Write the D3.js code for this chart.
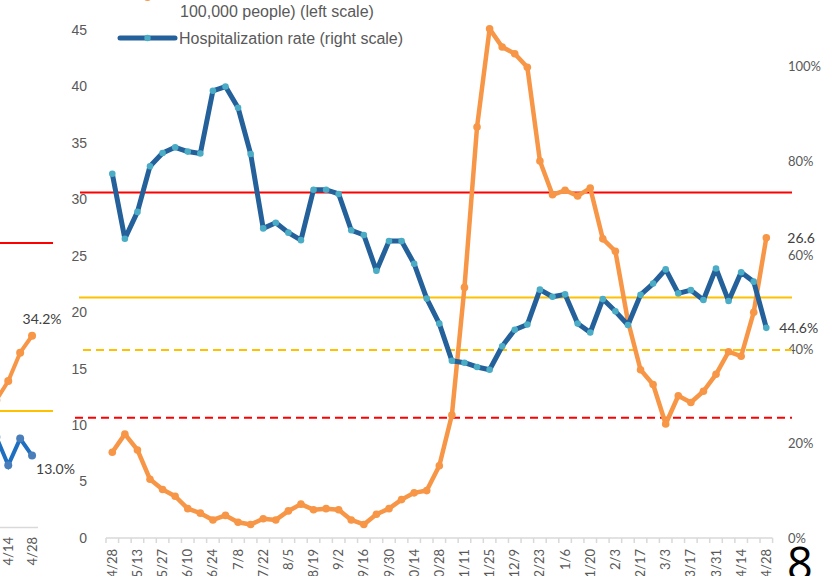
<!DOCTYPE html>
<html>
<head>
<meta charset="utf-8">
<script src="https://cdn.jsdelivr.net/npm/d3@7"></script>
<style>
  body { margin: 0; background: #fff; }
  svg { display: block; }
</style>
</head>
<body>
<div id="vis"></div>
<script>
// weekly dates, labelled every second week
const dates = ['4/28','5/6','5/13','5/20','5/27','6/3','6/10','6/17','6/24','7/1','7/8','7/15','7/22','7/29',
  '8/5','8/12','8/19','8/26','9/2','9/9','9/16','9/23','9/30','10/7','10/14','10/21','10/28','11/4','11/11',
  '11/18','11/25','12/2','12/9','12/16','12/23','12/30','1/6','1/13','1/20','1/27','2/3','2/10','2/17','2/24',
  '3/3','3/10','3/17','3/24','3/31','4/7','4/14','4/21','4/28'];

// cases per 100,000 people (left scale)
const cases = [7.6, 9.2, 7.8, 5.2, 4.3, 3.7, 2.6, 2.2, 1.6, 2.0, 1.4, 1.2, 1.7, 1.6, 2.4, 3.0, 2.5, 2.6,
  2.5, 1.6, 1.2, 2.1, 2.6, 3.4, 4.0, 4.2, 6.4, 10.9, 22.2, 36.4, 45.1, 43.5, 42.9, 41.7, 33.4, 30.4, 30.8,
  30.3, 31.0, 26.5, 25.4, 19.2, 14.9, 13.6, 10.1, 12.6, 12.0, 13.0, 14.5, 16.5, 16.1, 20.0, 26.6];

// hospitalization rate (right scale)
const hospRate = [0.773, 0.635, 0.692, 0.789, 0.817, 0.829, 0.820, 0.816, 0.949, 0.958, 0.913, 0.815,
  0.657, 0.669, 0.648, 0.632, 0.739, 0.739, 0.730, 0.653, 0.643, 0.567, 0.630, 0.630, 0.582, 0.508, 0.455,
  0.376, 0.372, 0.363, 0.357, 0.407, 0.442, 0.453, 0.527, 0.512, 0.517, 0.455, 0.436, 0.507, 0.481, 0.452,
  0.516, 0.540, 0.570, 0.519, 0.526, 0.505, 0.572, 0.503, 0.564, 0.544, 0.446];

// reference levels (left scale)
const refLevels = [30.6, 21.3, 16.65, 10.65];

const leftTicks = [0, 5, 10, 15, 20, 25, 30, 35, 40, 45];
const rightTicks = [0, 0.2, 0.4, 0.6, 0.8, 1.0];

// the neighbouring chart, cut off at the left edge
const prevDates = ['4/7', '4/14', '4/21', '4/28'];
const prevCases = [0.228, 0.262, 0.312, 0.342];
const prevHosp = [0.163, 0.113, 0.160, 0.130];
const prevRefLevels = [0.506, 0.209];

const W = 833, H = 576;
const orange = '#f79646';
const navy = '#24609a';
const aqua = '#4bacc6';
const grey = '#595959';

const svg = d3.select('#vis').append('svg')
  .attr('width', W).attr('height', H);

svg.append('rect').attr('width', W).attr('height', H).attr('fill', '#fff');

// ---------- main chart ----------
const plot = {left: 106, right: 772.6, top: 30, bottom: 538};
const idx = d3.range(dates.length); // dates repeat (4/28 twice), so key on position

const x = d3.scaleBand().domain(idx).range([plot.left, plot.right]).padding(0);
const cx = i => x(i) + x.bandwidth() / 2;
const yL = d3.scaleLinear().domain([0, 45]).range([plot.bottom, plot.top]);
const yR = d3.scaleLinear().domain([0, 1.078]).range([plot.bottom, plot.top]);

// left axis labels
svg.append('g').selectAll('text')
  .data(leftTicks).join('text')
  .attr('x', 87).attr('y', d => yL(d))
  .attr('dy', '0.35em')
  .attr('text-anchor', 'end')
  .style('font', '14px "Liberation Sans", Arial, sans-serif')
  .style('fill', grey)
  .text(d => d);

// right axis labels
svg.append('g').selectAll('text')
  .data(rightTicks).join('text')
  .attr('x', 788).attr('y', d => yR(d))
  .attr('dy', '0.35em')
  .style('font', '13px Lato, sans-serif')
  .style('fill', grey)
  .text(d => Math.round(d * 100) + '%');

// x axis
const xAxis = svg.append('g').attr('class', 'x-axis');
xAxis.append('line')
  .attr('x1', plot.left).attr('x2', plot.right)
  .attr('y1', plot.bottom).attr('y2', plot.bottom)
  .attr('stroke', '#d9d9d9').attr('stroke-width', 1.5);
const bounds = idx.map(i => x(i)).concat([plot.right]);
xAxis.selectAll('.tick')
  .data(bounds).join('line')
  .attr('class', 'tick')
  .attr('x1', d => d).attr('x2', d => d)
  .attr('y1', plot.bottom).attr('y2', plot.bottom + 5)
  .attr('stroke', '#d9d9d9').attr('stroke-width', 1.5);
xAxis.selectAll('.lbl')
  .data(idx.filter(i => i % 2 === 0)).join('text')
  .attr('class', 'lbl')
  .attr('transform', i => `translate(${cx(i)},${plot.bottom + 11}) rotate(-90)`)
  .attr('dy', '0.35em')
  .attr('text-anchor', 'end')
  .style('font', '13px Lato, sans-serif')
  .style('fill', grey)
  .text(i => dates[i]);

// reference lines
const refStyle = [
  {color: '#ff0000', dash: null, x1: 80},
  {color: '#ffc000', dash: null, x1: 79},
  {color: '#ffc000', dash: '8,5', x1: 83},
  {color: '#ff0000', dash: '8,5', x1: 75}
];
svg.append('g').selectAll('line')
  .data(refLevels).join('line')
  .attr('x1', (d, i) => refStyle[i].x1).attr('x2', 792)
  .attr('y1', d => yL(d)).attr('y2', d => yL(d))
  .attr('stroke', (d, i) => refStyle[i].color)
  .attr('stroke-width', 2)
  .attr('stroke-dasharray', (d, i) => refStyle[i].dash);

// orange: cases
const lineCases = d3.line().x((d, i) => cx(i)).y(d => yL(d));
svg.append('path')
  .datum(cases)
  .attr('d', lineCases)
  .attr('fill', 'none').attr('stroke', orange)
  .attr('stroke-width', 4.5).attr('stroke-linejoin', 'round');
svg.append('g').selectAll('circle')
  .data(cases).join('circle')
  .attr('cx', (d, i) => cx(i)).attr('cy', d => yL(d))
  .attr('r', 3.8).attr('fill', orange);

// blue: hospitalization rate
const lineHosp = d3.line().x((d, i) => cx(i)).y(d => yR(d));
svg.append('path')
  .datum(hospRate)
  .attr('d', lineHosp)
  .attr('fill', 'none').attr('stroke', navy)
  .attr('stroke-width', 5).attr('stroke-linejoin', 'round');
svg.append('g').selectAll('circle')
  .data(hospRate).join('circle')
  .attr('cx', (d, i) => cx(i)).attr('cy', d => yR(d))
  .attr('r', 3.3).attr('fill', aqua);

// end labels
const last = dates.length - 1;
svg.append('text')
  .attr('x', cx(last) + 21).attr('y', yL(cases[last]))
  .attr('dy', '0.35em')
  .style('font', '14px Lato, sans-serif').style('fill', '#404040')
  .text(cases[last].toFixed(1));
svg.append('text')
  .attr('x', cx(last) + 13).attr('y', yR(hospRate[last]))
  .attr('dy', '0.35em')
  .style('font', '14px Lato, sans-serif').style('fill', '#404040')
  .text((hospRate[last] * 100).toFixed(1) + '%');

// legend (top is cut off by the frame)
const legend = svg.append('g').attr('class', 'legend');
const legendFont = '16px "Liberation Sans", Arial, sans-serif';
legend.append('line').attr('x1', 120).attr('x2', 175).attr('y1', -5).attr('y2', -5)
  .attr('stroke', orange).attr('stroke-width', 5);
legend.append('circle').attr('cx', 147.5).attr('cy', -4).attr('r', 5).attr('fill', orange);
legend.append('text').attr('x', 180).attr('y', -11).attr('dy', '0.35em')
  .style('font', legendFont).style('fill', grey)
  .text('New cases (cases per');
legend.append('text').attr('x', 180).attr('y', 11).attr('dy', '0.35em')
  .style('font', legendFont).style('fill', grey)
  .text('100,000 people) (left scale)');
legend.append('line').attr('x1', 120).attr('x2', 175).attr('y1', 38).attr('y2', 38)
  .attr('stroke', navy).attr('stroke-width', 5).attr('stroke-linecap', 'round');
legend.append('circle').attr('cx', 147.5).attr('cy', 38).attr('r', 3.2).attr('fill', aqua);
legend.append('text').attr('x', 179).attr('y', 38).attr('dy', '0.35em')
  .style('font', legendFont).style('fill', grey)
  .text('Hospitalization rate (right scale)');

// ---------- neighbouring chart, only its right edge is visible ----------
const px = d3.scaleBand().domain(prevDates).range([-9.6, 38]).padding(0);
const pcx = d => px(d) + px.bandwidth() / 2;
const py = d3.scaleLinear().domain([0, 1]).range([529, -36]);

const refPrevColors = ['#ff0000', '#ffc000'];
svg.append('g').selectAll('line')
  .data(prevRefLevels).join('line')
  .attr('x1', 0).attr('x2', 53)
  .attr('y1', d => py(d)).attr('y2', d => py(d))
  .attr('stroke', (d, i) => refPrevColors[i]).attr('stroke-width', 2);

svg.append('line')
  .attr('x1', 0).attr('x2', 38).attr('y1', 527.5).attr('y2', 527.5)
  .attr('stroke', '#d9d9d9').attr('stroke-width', 1.5);
svg.append('g').selectAll('text')
  .data(prevDates.filter((d, i) => i % 2 === 1)).join('text')
  .attr('transform', d => `translate(${pcx(d)},537) rotate(-90)`)
  .attr('dy', '0.35em').attr('text-anchor', 'end')
  .style('font', '13px Lato, sans-serif').style('fill', grey)
  .text(d => d);

const prevLine = d3.line().x((d, i) => pcx(prevDates[i])).y(d => py(d));
svg.append('path').datum(prevCases).attr('d', prevLine)
  .attr('fill', 'none').attr('stroke', orange).attr('stroke-width', 4);
svg.append('g').selectAll('circle').data(prevCases).join('circle')
  .attr('cx', (d, i) => pcx(prevDates[i])).attr('cy', d => py(d))
  .attr('r', 4).attr('fill', orange);
svg.append('path').datum(prevHosp).attr('d', prevLine)
  .attr('fill', 'none').attr('stroke', '#1f6fc0').attr('stroke-width', 4);
svg.append('g').selectAll('circle').data(prevHosp).join('circle')
  .attr('cx', (d, i) => pcx(prevDates[i])).attr('cy', d => py(d))
  .attr('r', 4).attr('fill', '#4a7ebb');

const pl = prevDates.length - 1;
svg.append('text')
  .attr('x', pcx(prevDates[pl]) + 10).attr('y', py(prevCases[pl]) - 17)
  .attr('dy', '0.35em').attr('text-anchor', 'middle')
  .style('font', '14px Lato, sans-serif').style('fill', '#404040')
  .text((prevCases[pl] * 100).toFixed(1) + '%');
svg.append('text')
  .attr('x', pcx(prevDates[pl]) + 4).attr('y', py(prevHosp[pl]) + 14)
  .attr('dy', '0.35em')
  .style('font', '14px Lato, sans-serif').style('fill', '#404040')
  .text((prevHosp[pl] * 100).toFixed(1) + '%');

// page number
svg.append('text')
  .attr('x', 787).attr('y', 580)
  .style('font', '45px "Open Sans", sans-serif').style('fill', '#000')
  .text('8');
</script>
</body>
</html>
